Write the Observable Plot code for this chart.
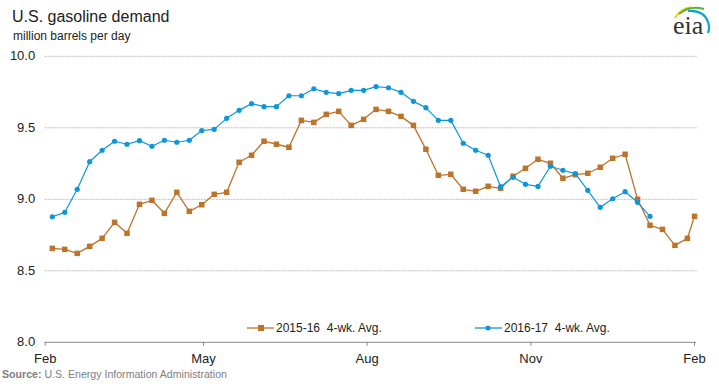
<!DOCTYPE html>
<html>
<head>
<meta charset="utf-8">
<script src="https://cdn.jsdelivr.net/npm/d3@7"></script>
<script src="https://cdn.jsdelivr.net/npm/@observablehq/plot@0.6"></script>
<style>
  body { margin: 0; background: #fff; }
  #wrap { position: relative; width: 719px; height: 384px; font-family: "Liberation Sans", Arial, sans-serif; overflow: hidden; }
  #wrap > svg, #chart svg { display: block; }
  .ov { position: absolute; white-space: nowrap; }
</style>
</head>
<body>
<div id="wrap">
  <div id="chart"></div>
  <div class="ov" style="left:12px;top:8px;font-size:16px;color:#222;">U.S. gasoline demand</div>
  <div class="ov" style="left:13px;top:29px;font-size:12px;color:#222;">million barrels per day</div>
  <div class="ov" style="left:2px;top:368px;font-size:10.6px;color:#808080;"><b>Source:</b> U.S. Energy Information Administration</div>
  <svg class="ov" style="left:0;top:0;" width="719" height="384" id="deco">
    <path d="M675,18 Q680,9 691,7" fill="none" stroke="#f2cf1d" stroke-width="2.2"/>
    <path d="M679,14 Q690,5 704,9" fill="none" stroke="#5bb030" stroke-width="2.2"/>
    <path d="M688,11 Q704,10 708,22 Q710,28 708,33" fill="none" stroke="#11a0db" stroke-width="2.2"/>
    <text x="673" y="34" font-family="'Liberation Serif','DejaVu Serif',serif" font-size="26" fill="#333">eia</text>
    <g id="legend"></g>
  </svg>
</div>
<script>
// Weekly observation dates (plotted on a common Feb–Feb frame)
const weeks = [
  "2015-02-05","2015-02-12","2015-02-19","2015-02-26","2015-03-05","2015-03-12","2015-03-19","2015-03-26",
  "2015-04-02","2015-04-09","2015-04-16","2015-04-23","2015-04-30","2015-05-07","2015-05-14","2015-05-21",
  "2015-05-28","2015-06-04","2015-06-11","2015-06-18","2015-06-25","2015-07-02","2015-07-09","2015-07-16",
  "2015-07-23","2015-07-30","2015-08-06","2015-08-13","2015-08-20","2015-08-27","2015-09-03","2015-09-10",
  "2015-09-17","2015-09-24","2015-10-01","2015-10-08","2015-10-15","2015-10-22","2015-10-29","2015-11-05",
  "2015-11-12","2015-11-19","2015-11-26","2015-12-03","2015-12-10","2015-12-17","2015-12-24","2015-12-31",
  "2016-01-07","2016-01-14","2016-01-21","2016-01-28","2016-02-01"
];

// 2015-16 4-wk. Avg. (million barrels per day)
const avg2015 = [
  8.657, 8.650, 8.622, 8.671, 8.727, 8.839, 8.762, 8.965, 8.993, 8.902,
  9.049, 8.916, 8.962, 9.035, 9.049, 9.259, 9.308, 9.406, 9.385, 9.364,
  9.552, 9.538, 9.594, 9.615, 9.517, 9.559, 9.629, 9.615, 9.580, 9.517,
  9.350, 9.168, 9.175, 9.070, 9.056, 9.091, 9.077, 9.161, 9.217, 9.280,
  9.252, 9.147, 9.172, 9.182, 9.224, 9.287, 9.315, 9.000, 8.818, 8.790,
  8.678, 8.727, 8.881
];

// 2016-17 4-wk. Avg. (million barrels per day)
const avg2016 = [
  8.878, 8.909, 9.070, 9.263, 9.343, 9.406, 9.385, 9.410, 9.371, 9.413,
  9.399, 9.413, 9.481, 9.489, 9.566, 9.622, 9.669, 9.648, 9.648, 9.724,
  9.724, 9.773, 9.748, 9.739, 9.762, 9.762, 9.788, 9.780, 9.748, 9.685,
  9.641, 9.552, 9.552, 9.392, 9.343, 9.308, 9.088, 9.154, 9.105, 9.090,
  9.231, 9.203, 9.179, 9.063, 8.944, 9.004, 9.053, 8.979, 8.881
];

const seriesNames = ["2015-16  4-wk. Avg.", "2016-17  4-wk. Avg."];
const seriesColors = ["#bd732a", "#0e97d8"];

const xTickDates = ["2015-02-01","2015-05-01","2015-08-01","2015-11-01","2016-02-01"];
const xTickLabels = ["Feb","May","Aug","Nov","Feb"];
const yTicks = [8.0, 8.5, 9.0, 9.5, 10.0];
const yTickLabels = ["8.0","8.5","9.0","9.5","10.0"];

const parse = d3.utcParse("%Y-%m-%d");
const s1 = avg2015.map((v, i) => ({date: parse(weeks[i]), value: v}));
const s2 = avg2016.map((v, i) => ({date: parse(weeks[i]), value: v}));
const tickDates = xTickDates.map(parse);
const xLabel = new Map(tickDates.map((d, i) => [+d, xTickLabels[i]]));
const yLabel = new Map(yTicks.map((d, i) => [d, yTickLabels[i]]));

const chart = Plot.plot({
  width: 719,
  height: 384,
  marginLeft: 44.7,
  marginRight: 25,
  marginTop: 55.8,
  marginBottom: 42.2,
  style: {fontFamily: '"Liberation Sans", Arial, sans-serif', fontSize: "13px", color: "#222", background: "transparent"},
  x: {type: "utc", domain: [tickDates[0], tickDates[tickDates.length - 1]]},
  y: {domain: [8, 10]},
  marks: [
    Plot.ruleY(yTicks.slice(1), {stroke: "#bdbdbd", strokeDasharray: "2,1", insetRight: -2.7}),
    Plot.ruleY([8], {stroke: "#8a8a8a", strokeWidth: 1, insetRight: -2}),
    Plot.axisY({ticks: yTicks, tickSize: 0, tickPadding: 10, tickFormat: d => yLabel.get(d), label: null, fontSize: 13}),
    Plot.axisX({ticks: tickDates, tickSize: 4, tickPadding: 7, stroke: "#8a8a8a", tickFormat: d => xLabel.get(+d), label: null, fontSize: 13}),
    Plot.line(s1, {x: "date", y: "value", stroke: seriesColors[0], strokeWidth: 1.3}),
    Plot.dot(s1, {x: "date", y: "value", symbol: "square", r: 3.1, fill: seriesColors[0], stroke: "none"}),
    Plot.line(s2, {x: "date", y: "value", stroke: seriesColors[1], strokeWidth: 1.2}),
    Plot.dot(s2, {x: "date", y: "value", r: 2.6, fill: seriesColors[1], stroke: "none"})
  ]
});
document.getElementById("chart").appendChild(chart);

// Legend (swatches + labels)
const lg = d3.select("#legend");
const legendItems = [
  {x: 247, name: seriesNames[0], color: seriesColors[0], sym: "square"},
  {x: 475, name: seriesNames[1], color: seriesColors[1], sym: "circle"}
];
legendItems.forEach(it => {
  const g = lg.append("g").attr("transform", `translate(${it.x},328)`);
  g.append("line").attr("x1", 0).attr("x2", 27).attr("stroke", it.color).attr("stroke-width", 1.3);
  if (it.sym === "square") g.append("rect").attr("x", 11).attr("y", -3).attr("width", 6).attr("height", 6).attr("fill", it.color);
  else g.append("circle").attr("cx", 13).attr("r", 2.5).attr("fill", it.color);
  g.append("text").attr("x", 29).attr("y", 4.3).attr("font-family", '"Liberation Sans", Arial, sans-serif')
    .attr("font-size", 12).attr("fill", "#222").style("white-space", "pre").text(it.name);
});
</script>
</body>
</html>
